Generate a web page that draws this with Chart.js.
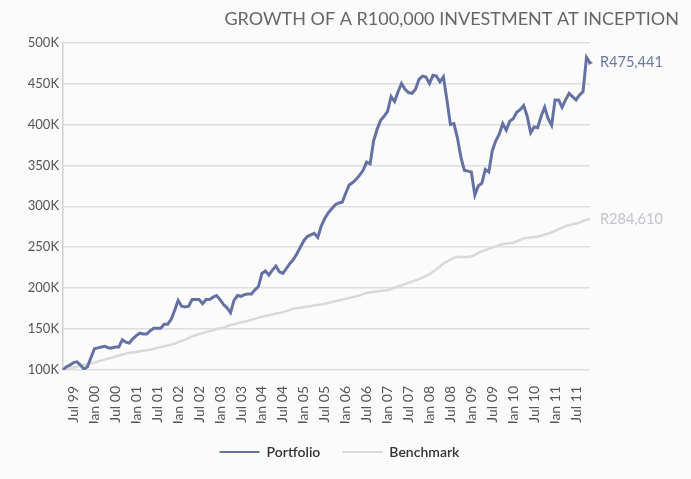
<!DOCTYPE html>
<html>
<head>
<meta charset="utf-8">
<script src="https://cdn.jsdelivr.net/npm/chart.js@4"></script>
<style>
    body { margin: 0; background: #fbfbfb; }
    #wrap { width: 691px; height: 479px; position: relative; }
</style>
</head>
<body>
<div id="wrap"><canvas id="growthChart"></canvas></div>
<script>
// Månader (Apr 99 - Nov 11)
const months = [
    'Apr 99','May 99','Jun 99','Jul 99','Aug 99','Sep 99','Oct 99','Nov 99','Dec 99',
    'Jan 00','Feb 00','Mar 00','Apr 00','May 00','Jun 00','Jul 00','Aug 00','Sep 00','Oct 00','Nov 00','Dec 00',
    'Jan 01','Feb 01','Mar 01','Apr 01','May 01','Jun 01','Jul 01','Aug 01','Sep 01','Oct 01','Nov 01','Dec 01',
    'Jan 02','Feb 02','Mar 02','Apr 02','May 02','Jun 02','Jul 02','Aug 02','Sep 02','Oct 02','Nov 02','Dec 02',
    'Jan 03','Feb 03','Mar 03','Apr 03','May 03','Jun 03','Jul 03','Aug 03','Sep 03','Oct 03','Nov 03','Dec 03',
    'Jan 04','Feb 04','Mar 04','Apr 04','May 04','Jun 04','Jul 04','Aug 04','Sep 04','Oct 04','Nov 04','Dec 04',
    'Jan 05','Feb 05','Mar 05','Apr 05','May 05','Jun 05','Jul 05','Aug 05','Sep 05','Oct 05','Nov 05','Dec 05',
    'Jan 06','Feb 06','Mar 06','Apr 06','May 06','Jun 06','Jul 06','Aug 06','Sep 06','Oct 06','Nov 06','Dec 06',
    'Jan 07','Feb 07','Mar 07','Apr 07','May 07','Jun 07','Jul 07','Aug 07','Sep 07','Oct 07','Nov 07','Dec 07',
    'Jan 08','Feb 08','Mar 08','Apr 08','May 08','Jun 08','Jul 08','Aug 08','Sep 08','Oct 08','Nov 08','Dec 08',
    'Jan 09','Feb 09','Mar 09','Apr 09','May 09','Jun 09','Jul 09','Aug 09','Sep 09','Oct 09','Nov 09','Dec 09',
    'Jan 10','Feb 10','Mar 10','Apr 10','May 10','Jun 10','Jul 10','Aug 10','Sep 10','Oct 10','Nov 10','Dec 10',
    'Jan 11','Feb 11','Mar 11','Apr 11','May 11','Jun 11','Jul 11','Aug 11','Sep 11','Oct 11','Nov 11'
];

// Värden i tusental rand
const portfolio = [
    100, 104, 106, 109, 110, 106, 101, 104, 115,
    126, 127, 128, 129, 127, 127, 128, 128, 137, 134, 133, 138, 142,
    145, 144, 144, 148, 151, 151, 151, 156, 156, 162, 173, 185,
    178, 177, 178, 186, 186, 186, 181, 186, 186, 189, 191, 186,
    180, 176, 170, 185, 191, 190, 192, 193, 193, 198, 202, 218,
    221, 216, 222, 227, 220, 218, 224, 230, 235, 242, 250, 258,
    263, 265, 267, 262, 276, 285, 292, 297, 302, 304, 305, 316,
    326, 329, 333, 338, 344, 354, 352, 380, 394, 405, 410, 416,
    434, 428, 440, 450, 443, 439, 438, 443, 455, 459, 458, 450,
    460, 459, 452, 458, 430, 400, 401, 384, 360, 344, 343, 342,
    314, 325, 328, 345, 342, 368, 380, 388, 401, 393, 404, 407,
    415, 418, 423, 410, 390, 397, 396, 410, 421, 407, 399, 430,
    430, 421, 430, 438, 434, 430, 436, 440, 482, 475.441
];

const benchmark = [
    100, 101, 102, 103, 104, 105, 106, 107, 108,
    109, 110.5, 111.5, 113, 114, 115, 116.5, 117.5, 119, 120, 121, 121.5,
    122, 123, 123.5, 124, 125, 126, 127, 128, 129, 130, 131, 132,
    134, 135.5, 137, 139, 141, 142.5, 144, 145, 146.5, 147.5, 148.5, 150,
    151, 152, 153.5, 155, 156, 157, 158, 159, 160, 161.5, 162.5, 164,
    165, 166, 167, 168, 169, 169.5, 170.5, 172, 173.5, 175, 175.5, 176,
    177, 177.5, 178, 179, 179.5, 180, 181, 182, 183, 184, 185, 186,
    187, 188, 189, 190, 191, 193, 194, 195, 195.5, 196, 196.5, 197,
    197.5, 199, 200.5, 202, 203.5, 205, 206.5, 208, 209.5, 211, 213, 215,
    217, 220, 223, 226.5, 230, 232.5, 235, 237, 238, 238.5, 238, 238,
    239, 240.5, 243, 245, 246.5, 248, 249.5, 251, 252.5, 254, 254.5, 255,
    255.5, 257, 259, 261, 261.5, 262, 262.5, 263, 264, 265.5, 266.5, 268,
    270, 272, 274, 276, 277, 278, 279, 280, 282, 283.5, 284.61
];

const tickLabels = ['Jul 99','Jan 00','Jul 00','Jan 01','Jul 01','Jan 02','Jul 02','Jan 03','Jul 03',
    'Jan 04','Jul 04','Jan 05','Jul 05','Jan 06','Jul 06','Jan 07','Jul 07','Jan 08','Jul 08',
    'Jan 09','Jul 09','Jan 10','Jul 10','Jan 11','Jul 11'];

const seriesNames = ['Portfolio', 'Benchmark'];
const endLabels = ['R475,441', 'R284,610'];
const lineColors = ['#6571a3', '#d9d9d9'];
const endColors = ['#6a76a4', '#c3c3cb'];

Chart.defaults.font.family = 'Lato, "Open Sans", sans-serif';

// Etiketter vid linjernas slut
const endLabelPlugin = {
    id: 'endLabels',
    afterDatasetsDraw(chart) {
        const ctx = chart.ctx;
        chart.data.datasets.forEach((ds, i) => {
            const pts = chart.getDatasetMeta(i).data;
            const last = pts[pts.length - 1];
            ctx.save();
            ctx.font = '14.5px Lato, sans-serif';
            ctx.fillStyle = endColors[i];
            ctx.textBaseline = 'middle';
            ctx.fillText(endLabels[i], last.x + 10, last.y);
            ctx.restore();
        });
    }
};

const ctx = document.getElementById('growthChart').getContext('2d');
new Chart(ctx, {
    type: 'line',
    data: {
        labels: months,
        datasets: [{
            label: seriesNames[0],
            data: portfolio,
            borderColor: lineColors[0],
            backgroundColor: lineColors[0],
            borderWidth: 3,
            tension: 0,
            pointRadius: c => c.dataIndex === portfolio.length - 1 ? 3 : 0,
            pointStyle: 'triangle',
            rotation: 90,
            pointBorderWidth: 0,
            xAxisID: 'x',
            yAxisID: 'y'
        }, {
            label: seriesNames[1],
            data: benchmark,
            borderColor: lineColors[1],
            backgroundColor: lineColors[1],
            borderWidth: 2.5,
            tension: 0,
            pointRadius: 0,
            xAxisID: 'x',
            yAxisID: 'y'
        }]
    },
    options: {
        responsive: true,
        maintainAspectRatio: false,
        animation: false,
        layout: { padding: { left: 0, right: 12, top: 4, bottom: 10 } },
        scales: {
            x: {
                grid: { display: false },
                border: { display: false },
                ticks: {
                    autoSkip: false,
                    maxRotation: 90,
                    minRotation: 90,
                    padding: 8,
                    color: '#555',
                    font: { size: 14 },
                    callback: function(value) {
                        const lbl = this.getLabelForValue(value);
                        return tickLabels.includes(lbl) ? lbl : '';
                    }
                },
                afterFit: s => { s.height = 53; }
            },
            y: {
                min: 100,
                max: 500,
                grid: { color: '#dedede', lineWidth: 1.5, drawTicks: false },
                border: { display: true, color: '#cfcfcf', width: 1.5 },
                ticks: {
                    stepSize: 50,
                    padding: 4,
                    color: '#555',
                    font: { size: 13 },
                    callback: v => v + 'K'
                },
                afterFit: s => { s.width = 63; }
            },
            yPad: {
                position: 'right',
                display: true,
                grid: { display: false },
                border: { display: false },
                ticks: { display: false },
                afterFit: s => { s.width = 89; }
            }
        },
        plugins: {
            title: {
                display: true,
                text: 'GROWTH OF A R100,000 INVESTMENT AT INCEPTION',
                align: 'end',
                color: '#666',
                font: { size: 18, weight: 'normal' },
                padding: { top: 4, bottom: 13 }
            },
            legend: {
                position: 'bottom',
                labels: {
                    usePointStyle: true,
                    pointStyle: 'line',
                    pointStyleWidth: 40,
                    boxHeight: 14,
                    padding: 22,
                    color: '#333',
                    font: { size: 14, weight: '600' },
                    generateLabels: chart => Chart.defaults.plugins.legend.labels.generateLabels(chart)
                        .map(l => Object.assign(l, { rotation: 0, pointStyle: 'line', lineWidth: 2 }))
                }
            },
            tooltip: { enabled: false }
        }
    },
    plugins: [endLabelPlugin]
});
</script>
</body>
</html>
